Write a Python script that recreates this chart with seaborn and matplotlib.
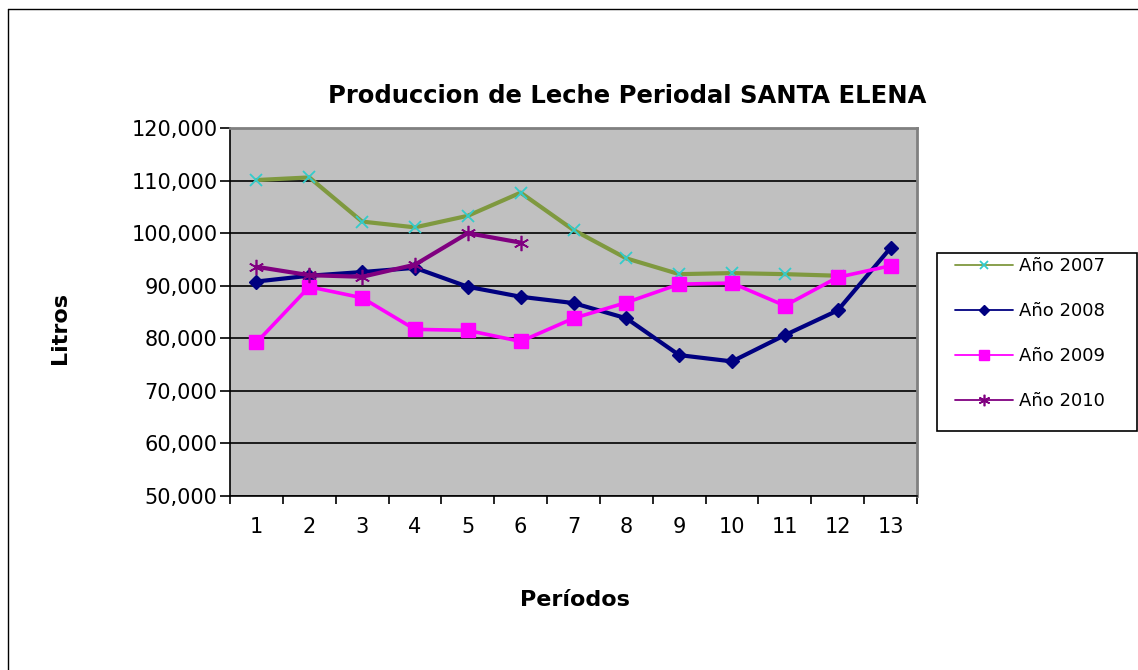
import matplotlib
matplotlib.use("Agg")
import matplotlib.pyplot as plt
import seaborn as sns
import pandas as pd
from matplotlib.ticker import FuncFormatter
from matplotlib.lines import Line2D
from matplotlib.patches import Rectangle

# ---- data ----
periodos = list(range(1, 14))
anio_2007 = [110100, 110600, 102200, 101100, 103300, 107700, 100600, 95200, 92200, 92400, 92200, 91900]
anio_2008 = [90800, 91900, 92600, 93400, 89800, 87900, 86700, 83800, 76800, 75600, 80600, 85300, 97200]
anio_2009 = [79200, 89800, 87700, 81700, 81500, 79400, 83800, 86800, 90300, 90500, 86200, 91600, 93800]
anio_2010 = [93600, 92000, 91700, 94000, 100000, 98200]
series_labels = ["Año 2007", "Año 2008", "Año 2009", "Año 2010"]
y_ticks = [50000, 60000, 70000, 80000, 90000, 100000, 110000, 120000]
title = "Produccion de Leche Periodal SANTA ELENA"
xlabel = "Períodos"
ylabel = "Litros"

sns.set_theme(style="white")
plt.rcParams['font.family'] = ['DejaVu Sans']

W, H = 1138, 670
fig = plt.figure(figsize=(W / 100, H / 100), dpi=100)


def px(x0, y0, x1, y1):
    return [x0 / W, 1 - y1 / H, (x1 - x0) / W, (y1 - y0) / H]


ax = fig.add_axes(px(230, 128, 917, 496))
ax.set_facecolor("#C0C0C0")

styles = [
    dict(color="#7F993F", linewidth=3, marker="x", markersize=8,
         markeredgecolor="#33CCCC", markerfacecolor="#33CCCC", markeredgewidth=1.3),
    dict(color="#000080", linewidth=3, marker="D", markersize=7,
         markeredgecolor="#000080", markerfacecolor="#000080", markeredgewidth=1),
    dict(color="#FF00FF", linewidth=2.6, marker="s", markersize=10,
         markeredgecolor="#FF00FF", markerfacecolor="#FF00FF", markeredgewidth=1),
    dict(color="#800080", linewidth=3, marker=(6, 2, 0), markersize=11,
         markeredgecolor="#800080", markerfacecolor="#800080", markeredgewidth=1.2),
]
series = [anio_2007, anio_2008, anio_2009, anio_2010]

for lab, vals, st in zip(series_labels, series, styles):
    df = pd.DataFrame({"Periodo": periodos[:len(vals)], "Litros": vals})
    sns.lineplot(data=df, x="Periodo", y="Litros", ax=ax, label=lab, zorder=3, **st)

if ax.get_legend() is not None:
    ax.get_legend().remove()

ax.set_xlim(0.5, 13.5)
ax.set_ylim(50000, 120000)
ax.set_yticks(y_ticks)
ax.yaxis.set_major_formatter(FuncFormatter(lambda v, p: f"{int(v):,}"))
ax.yaxis.grid(True, color="black", linewidth=1.2)
ax.xaxis.grid(False)
ax.set_axisbelow(True)

ax.set_xticks([p - 0.5 for p in periodos] + [13.5])
ax.set_xticklabels([])
ax.set_xticks(periodos, minor=True)
ax.set_xticklabels([str(p) for p in periodos], minor=True)
ax.tick_params(axis="x", which="major", direction="out", length=6, width=1.2,
               color="black", bottom=True)
ax.tick_params(axis="x", which="minor", length=0, pad=15, labelsize=15,
               labelcolor="black", bottom=True)
ax.tick_params(axis="y", which="major", direction="out", length=7, width=1.2,
               color="black", left=True, pad=2, labelsize=15, labelcolor="black")
ax.set_xlabel("")
ax.set_ylabel("")

for s in ["left", "bottom"]:
    ax.spines[s].set_color("black")
    ax.spines[s].set_linewidth(1.2)
for s in ["top", "right"]:
    ax.spines[s].set_color("#808080")
    ax.spines[s].set_linewidth(2)

# legend
handles, labels = ax.get_legend_handles_labels()
leg = fig.legend(handles, labels, loc="upper left",
                 bbox_to_anchor=(955 / W, 1 - 257 / H), bbox_transform=fig.transFigure,
                 frameon=False, borderpad=0, borderaxespad=0, fontsize=13,
                 handlelength=3.2, handletextpad=0.35, labelspacing=1.5)
for t in leg.get_texts():
    t.set_color("black")
for ln, st in zip(leg.get_lines(), styles):
    ln.set_linewidth(1.3)
    ln.set_markersize(st["markersize"] * 0.75)
fig.patches.append(Rectangle((937 / W, 1 - 431 / H), (1137 - 937) / W, (431 - 253) / H,
                             transform=fig.transFigure, fill=False, edgecolor="black",
                             linewidth=1.2))

# texts
fig.text(627 / W, 1 - 96 / H, title, ha="center", va="center",
         fontsize=17.5, fontweight="bold", color="black")
fig.text(575 / W, 1 - 600 / H, xlabel, ha="center", va="center",
         fontsize=16, fontweight="bold", color="black")
fig.text(60 / W, 1 - 328 / H, ylabel, ha="center", va="center", rotation=90,
         fontsize=16, fontweight="bold", color="black")

# outer chart frame
fig.add_artist(Line2D([8 / W, 8 / W], [0, 1 - 9 / H], transform=fig.transFigure,
                      color="black", linewidth=1))
fig.add_artist(Line2D([8 / W, 1], [1 - 9 / H, 1 - 9 / H], transform=fig.transFigure,
                      color="black", linewidth=1))

fig.savefig("out.png", dpi=100, facecolor="white")
